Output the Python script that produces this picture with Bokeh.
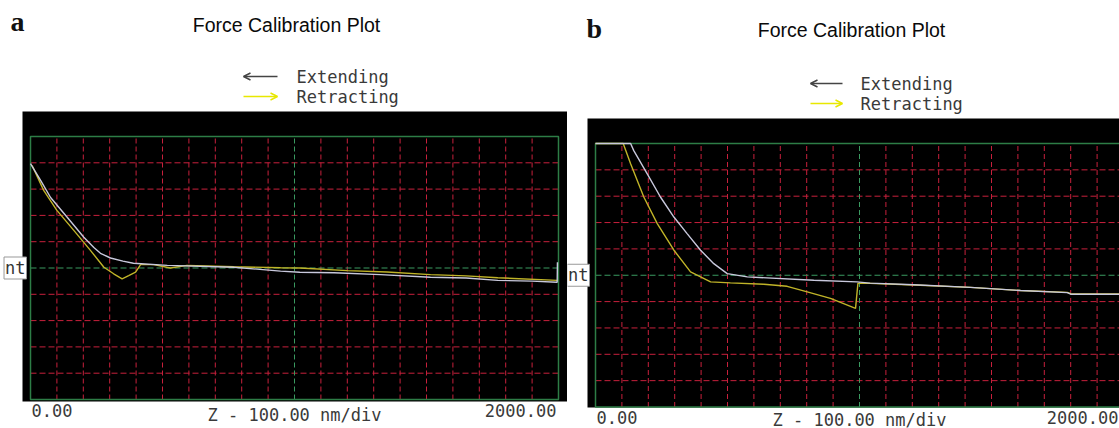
from bokeh.plotting import figure
from bokeh.layouts import row
from bokeh.models import Label, Arrow, OpenHead, Range1d
from bokeh.embed import file_html
from bokeh.resources import INLINE

# ---------------- data ----------------
panel_letters = ["a", "b"]
title_text = "Force Calibration Plot"
legend_labels = ["Extending", "Retracting"]
tick_labels = ["0.00", "2000.00"]
x_axis_label = "Z - 100.00 nm/div"
setpoint_label = "nt"

x_divs = [0, 20]          # 20 divisions of 100 nm
y_divs = [-5, 5]
grid_x = [1, 2, 3, 4, 5, 6, 7, 8, 9, 11, 12, 13, 14, 15, 16, 17, 18, 19]
grid_y = [-4, -3, -2, -1, 1, 2, 3, 4]
center_x = [10]
center_y = [0]

# panel a
a_ext_x = [0, 0.4, 0.76, 1.39, 2.02, 2.4, 2.65, 3.03, 3.5, 3.9, 5.18, 7.7, 9.47, 10.2, 11.5,
           13.26, 15.15, 16.5, 17.7, 19.0, 19.95, 19.96]
a_ext_y = [3.97, 3.3, 2.68, 1.93, 1.17, 0.78, 0.56, 0.38, 0.26, 0.18, 0.1, 0.03, -0.12, -0.16, -0.18,
           -0.25, -0.35, -0.38, -0.47, -0.5, -0.54, 0.22]
a_ret_x = [0.06, 0.5, 1.0, 1.64, 2.27, 2.78, 3.15, 3.47, 3.72, 3.98, 4.17, 4.67, 5.3, 5.93,
           7.7, 9.47, 10.2, 12.0, 13.5, 15.15, 16.5, 17.7, 19.95]
a_ret_y = [3.9, 2.95, 2.19, 1.43, 0.67, 0.03, -0.22, -0.41, -0.29, -0.16, 0.13, 0.13, 0.0, 0.1,
           0.05, 0.01, 0.0, -0.1, -0.15, -0.25, -0.3, -0.37, -0.47]

# panel b
b_ext_x = [0, 1.33, 1.45, 1.96, 2.46, 2.97, 3.47, 3.98, 4.48, 4.99, 5.75, 8.27, 9.9, 10.4,
           12.05, 14.2, 16.1, 17.87, 18.0, 19.85, 20]
b_ext_y = [5, 5, 4.73, 3.85, 2.97, 2.21, 1.58, 0.95, 0.44, 0.06, -0.06, -0.19, -0.25, -0.3,
           -0.36, -0.46, -0.58, -0.66, -0.72, -0.72, -0.73]
b_ret_x = [0, 1.05, 1.33, 1.83, 2.34, 2.97, 3.6, 4.36, 5.11, 6.38, 7.26, 8.02, 8.9, 9.85,
           9.94, 10.4, 12.05, 14.2, 16.1, 17.87, 18.0, 20]
b_ret_y = [5, 5, 4.23, 2.97, 1.96, 0.95, 0.13, -0.25, -0.29, -0.34, -0.42, -0.63, -0.88, -1.26,
           -0.31, -0.31, -0.37, -0.46, -0.58, -0.65, -0.7, -0.71]

# ---------------- styles ----------------
RED = "#c8203c"
GREEN = "#2d7d46"
GREEN_DASH = "#3a9a60"
EXT_COL = "#c8c8dc"
RET_COL = "#c0b428"
MONO = "DejaVu Sans Mono"
H = 428


def make_panel(letter, ext_x, ext_y, ret_x, ret_y, g):
    # g: window-pixel geometry of this panel (the whole canvas is the plot frame)
    X = lambda px: (px - g["x0"]) / g["ppx"]
    Y = lambda py: (g["yc"] - py) / g["ppy"]
    W = g["width"]
    p = figure(width=W, height=H, output_backend="svg", toolbar_location=None, title=None,
               x_axis_location=None, y_axis_location=None,
               x_range=Range1d(X(g["fx"]), X(g["fx"] + W)),
               y_range=Range1d(Y(H), Y(0)))
    p.min_border = 0
    p.min_border_left = 0
    p.min_border_right = 0
    p.min_border_top = 0
    p.min_border_bottom = 0
    p.background_fill_color = "white"
    p.border_fill_color = "white"
    p.outline_line_color = None
    p.xgrid.visible = False
    p.ygrid.visible = False

    # black screen
    p.quad(left=[X(g["bl"])], right=[X(g["br"])], bottom=[Y(g["bb"])], top=[Y(g["bt"])],
           fill_color="black", line_color=None)
    # red dashed grid
    p.segment(x0=grid_x, y0=[y_divs[0]] * len(grid_x), x1=grid_x, y1=[y_divs[1]] * len(grid_x),
              line_color=RED, line_width=1, line_dash="5 3")
    p.segment(x0=[x_divs[0]] * len(grid_y), y0=grid_y, x1=[x_divs[1]] * len(grid_y), y1=grid_y,
              line_color=RED, line_width=1, line_dash="6 3")
    # green centre lines
    p.segment(x0=center_x, y0=[y_divs[0]], x1=center_x, y1=[y_divs[1]],
              line_color=GREEN_DASH, line_width=1, line_dash="5 3")
    p.segment(x0=[x_divs[0]], y0=center_y, x1=[x_divs[1]], y1=center_y,
              line_color=GREEN_DASH, line_width=1, line_dash="6 3")
    # frame
    p.quad(left=[x_divs[0]], right=[x_divs[1]], bottom=[y_divs[0]], top=[y_divs[1]],
           fill_color=None, line_color=GREEN, line_width=1.5)
    # curves
    p.line(ret_x, ret_y, line_color=RET_COL, line_width=1.4)
    p.line(ext_x, ext_y, line_color=EXT_COL, line_width=1.4)

    # panel letter and title
    p.add_layout(Label(x=X(g["lx"]), y=Y(g["ly"]), text=letter, text_font="Liberation Serif",
                       text_font_style="bold", text_font_size="28px", text_color="#111111",
                       text_align="left", text_baseline="middle"))
    p.add_layout(Label(x=X(g["tx"]), y=Y(g["ty"]), text=title_text, text_font="Liberation Sans",
                       text_font_size="19.5px", text_color="#0a0a0a",
                       text_align="center", text_baseline="middle"))
    # legend
    for i, (lab, col, y_arrow, y_text) in enumerate(zip(legend_labels, ["#444444", "#e8e800"],
                                                        g["ay"], g["ly_text"])):
        if i == 0:
            xs, xe = X(g["ax1"]), X(g["ax0"])
        else:
            xs, xe = X(g["ax0"]), X(g["ax1"])
        p.add_layout(Arrow(x_start=xs, y_start=Y(y_arrow), x_end=xe, y_end=Y(y_arrow),
                           line_color=col, line_width=1.5,
                           end=OpenHead(size=7, line_color=col, line_width=1.5)))
        p.add_layout(Label(x=X(g["ltx"]), y=Y(y_text), text=lab, text_font=MONO,
                           text_font_size="17px", text_color="#3a3a3a",
                           text_align="left", text_baseline="middle"))
    # setpoint label
    p.add_layout(Label(x=X(g["spx"]), y=0, text=setpoint_label, text_font=MONO,
                       text_font_size="17px", text_color="#333333",
                       text_align="right", text_baseline="middle",
                       background_fill_color="white", border_line_color="#999999",
                       padding=1))
    # bottom labels
    p.add_layout(Label(x=x_divs[0], y=Y(g["tick_y"]), text=tick_labels[0], text_font=MONO,
                       text_font_size="17px", text_color="#3a3a3a",
                       text_align="left", text_baseline="middle", x_offset=1))
    p.add_layout(Label(x=X(g["tick_right"]), y=Y(g["tick_y"]), text=tick_labels[1], text_font=MONO,
                       text_font_size="17px", text_color="#3a3a3a",
                       text_align="right", text_baseline="middle"))
    p.add_layout(Label(x=(x_divs[0] + x_divs[1]) / 2, y=Y(g["zl_y"]), text=x_axis_label,
                       text_font=MONO, text_font_size="17px", text_color="#3a3a3a",
                       text_align="center", text_baseline="middle"))
    return p


geom_a = dict(fx=0, width=567, x0=30, ppx=26.4, yc=267.5, ppy=26.3,
              bl=22, br=567, bt=111, bb=401,
              lx=10, ly=21, tx=286, ty=24,
              ax0=243, ax1=277, ay=[76, 96], ltx=296, ly_text=[76, 96.5],
              spx=26, tick_y=410, tick_right=556, zl_y=414)
geom_b = dict(fx=567, width=552, x0=595, ppx=26.4, yc=274.75, ppy=26.35,
              bl=587, br=1119, bt=118, bb=407,
              lx=586, ly=28, tx=851, ty=29.5,
              ax0=810, ax1=842, ay=[83, 103], ltx=860, ly_text=[83, 103.5],
              spx=589, tick_y=417, tick_right=1118, zl_y=419)

pa = make_panel(panel_letters[0], a_ext_x, a_ext_y, a_ret_x, a_ret_y, geom_a)
pb = make_panel(panel_letters[1], b_ext_x, b_ext_y, b_ret_x, b_ret_y, geom_b)

layout = row(pa, pb)
open("out.html", "w").write(file_html(layout, INLINE))
